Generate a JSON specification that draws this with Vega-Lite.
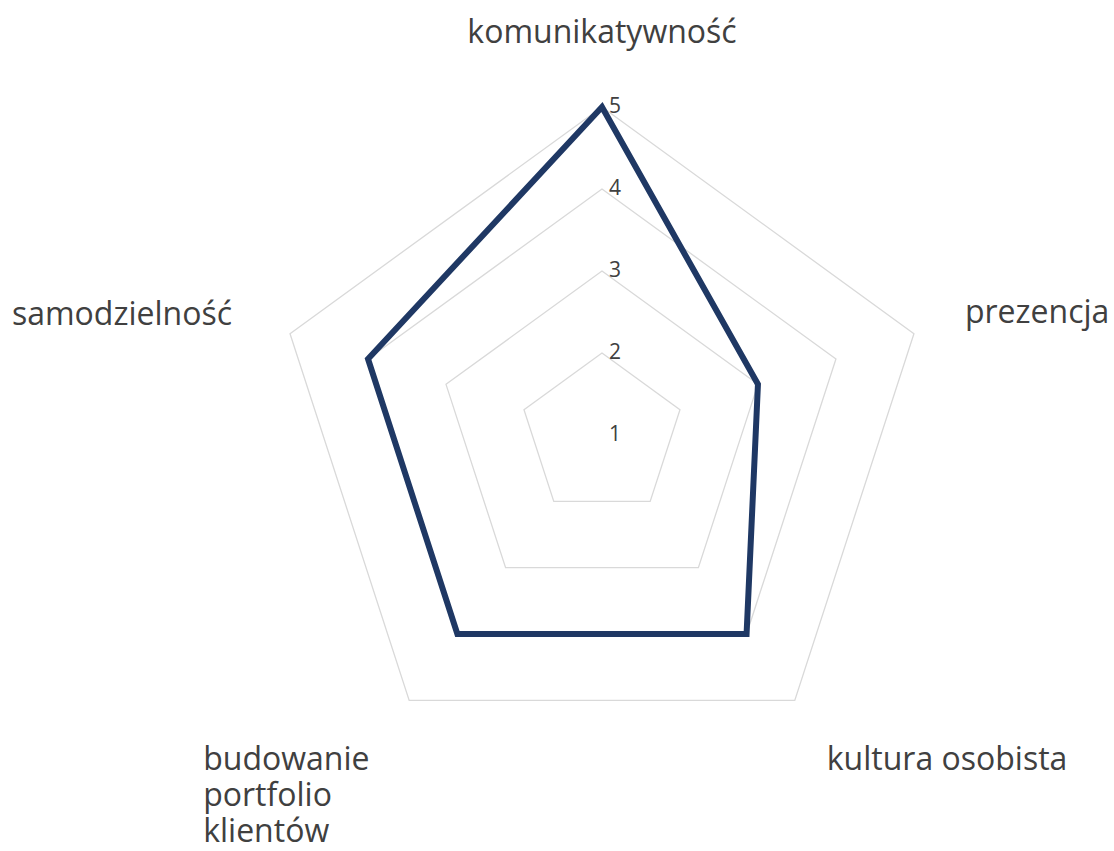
{
  "$schema": "https://vega.github.io/schema/vega-lite/v6.json",
  "width": 1114,
  "height": 851,
  "autosize": {"type": "none"},
  "padding": 0,
  "background": "white",
  "config": {"view": {"stroke": null}, "axis": {"disable": true}},
  "datasets": {
    "scores": [
      {"kategoria": "komunikatywność", "idx": 0, "ocena": 5},
      {"kategoria": "prezencja", "idx": 1, "ocena": 3},
      {"kategoria": "kultura osobista", "idx": 2, "ocena": 4},
      {"kategoria": "budowanie portfolio klientów", "idx": 3, "ocena": 4},
      {"kategoria": "samodzielność", "idx": 4, "ocena": 4}
    ],
    "grid": [
      {"poziom": 2, "idx": 0}, {"poziom": 2, "idx": 1}, {"poziom": 2, "idx": 2}, {"poziom": 2, "idx": 3}, {"poziom": 2, "idx": 4},
      {"poziom": 3, "idx": 0}, {"poziom": 3, "idx": 1}, {"poziom": 3, "idx": 2}, {"poziom": 3, "idx": 3}, {"poziom": 3, "idx": 4},
      {"poziom": 4, "idx": 0}, {"poziom": 4, "idx": 1}, {"poziom": 4, "idx": 2}, {"poziom": 4, "idx": 3}, {"poziom": 4, "idx": 4},
      {"poziom": 5, "idx": 0}, {"poziom": 5, "idx": 1}, {"poziom": 5, "idx": 2}, {"poziom": 5, "idx": 3}, {"poziom": 5, "idx": 4}
    ],
    "ticks": [{"v": 1}, {"v": 2}, {"v": 3}, {"v": 4}, {"v": 5}]
  },
  "layer": [
    {
      "data": {"name": "grid"},
      "transform": [
        {"calculate": "datum.idx * 2 * PI / 5", "as": "theta"},
        {"calculate": "(datum.poziom - 1) * sin(datum.theta)", "as": "px"},
        {"calculate": "(datum.poziom - 1) * cos(datum.theta)", "as": "py"}
      ],
      "mark": {"type": "line", "interpolate": "linear-closed", "color": "#d9d9d9", "strokeWidth": 1.3},
      "encoding": {
        "x": {"field": "px", "type": "quantitative", "scale": {"domain": [-7.341, 6.244], "nice": false, "zero": false}},
        "y": {"field": "py", "type": "quantitative", "scale": {"domain": [-5.073, 5.305], "nice": false, "zero": false}},
        "detail": {"field": "poziom", "type": "nominal"},
        "order": {"field": "idx", "type": "quantitative"}
      }
    },
    {
      "data": {"name": "scores"},
      "transform": [
        {"calculate": "datum.idx * 2 * PI / 5", "as": "theta"},
        {"calculate": "(datum.ocena - 1) * sin(datum.theta)", "as": "px"},
        {"calculate": "(datum.ocena - 1) * cos(datum.theta)", "as": "py"}
      ],
      "mark": {"type": "line", "interpolate": "linear-closed", "color": "#1f3864", "strokeWidth": 6, "strokeJoin": "miter"},
      "encoding": {
        "x": {"field": "px", "type": "quantitative", "scale": {"domain": [-7.341, 6.244], "nice": false, "zero": false}},
        "y": {"field": "py", "type": "quantitative", "scale": {"domain": [-5.073, 5.305], "nice": false, "zero": false}},
        "order": {"field": "idx", "type": "quantitative"}
      }
    },
    {
      "data": {"name": "ticks"},
      "transform": [
        {"calculate": "0", "as": "px"},
        {"calculate": "datum.v - 1", "as": "py"}
      ],
      "mark": {"type": "text", "align": "left", "baseline": "middle", "dx": 7, "font": "Open Sans", "fontSize": 21, "color": "#404040"},
      "encoding": {
        "x": {"field": "px", "type": "quantitative", "scale": {"domain": [-7.341, 6.244], "nice": false, "zero": false}},
        "y": {"field": "py", "type": "quantitative", "scale": {"domain": [-5.073, 5.305], "nice": false, "zero": false}},
        "text": {"field": "v", "type": "nominal"}
      }
    },
    {
      "data": {"name": "scores"},
      "transform": [
        {"filter": "datum.idx == 0"},
        {"calculate": "datum.idx * 2 * PI / 5", "as": "theta"},
        {"calculate": "4 * sin(datum.theta)", "as": "px"},
        {"calculate": "4 * cos(datum.theta)", "as": "py"}
      ],
      "mark": {"type": "text", "align": "center", "baseline": "alphabetic", "dx": 0, "dy": -64, "font": "Open Sans", "fontSize": 32, "color": "#404040"},
      "encoding": {
        "x": {"field": "px", "type": "quantitative", "scale": {"domain": [-7.341, 6.244], "nice": false, "zero": false}},
        "y": {"field": "py", "type": "quantitative", "scale": {"domain": [-5.073, 5.305], "nice": false, "zero": false}},
        "text": {"field": "kategoria", "type": "nominal"}
      }
    },
    {
      "data": {"name": "scores"},
      "transform": [
        {"filter": "datum.idx == 1"},
        {"calculate": "datum.idx * 2 * PI / 5", "as": "theta"},
        {"calculate": "4 * sin(datum.theta)", "as": "px"},
        {"calculate": "4 * cos(datum.theta)", "as": "py"}
      ],
      "mark": {"type": "text", "align": "left", "baseline": "alphabetic", "dx": 51, "dy": -11, "font": "Open Sans", "fontSize": 32, "color": "#404040"},
      "encoding": {
        "x": {"field": "px", "type": "quantitative", "scale": {"domain": [-7.341, 6.244], "nice": false, "zero": false}},
        "y": {"field": "py", "type": "quantitative", "scale": {"domain": [-5.073, 5.305], "nice": false, "zero": false}},
        "text": {"field": "kategoria", "type": "nominal"}
      }
    },
    {
      "data": {"name": "scores"},
      "transform": [
        {"filter": "datum.idx == 2"},
        {"calculate": "datum.idx * 2 * PI / 5", "as": "theta"},
        {"calculate": "4 * sin(datum.theta)", "as": "px"},
        {"calculate": "4 * cos(datum.theta)", "as": "py"}
      ],
      "mark": {"type": "text", "align": "left", "baseline": "alphabetic", "dx": 32, "dy": 70, "font": "Open Sans", "fontSize": 32, "color": "#404040"},
      "encoding": {
        "x": {"field": "px", "type": "quantitative", "scale": {"domain": [-7.341, 6.244], "nice": false, "zero": false}},
        "y": {"field": "py", "type": "quantitative", "scale": {"domain": [-5.073, 5.305], "nice": false, "zero": false}},
        "text": {"field": "kategoria", "type": "nominal"}
      }
    },
    {
      "data": {"name": "scores"},
      "transform": [
        {"filter": "datum.idx == 3"},
        {"calculate": "datum.idx * 2 * PI / 5", "as": "theta"},
        {"calculate": "4 * sin(datum.theta)", "as": "px"},
        {"calculate": "4 * cos(datum.theta)", "as": "py"}
      ],
      "mark": {"type": "text", "align": "left", "baseline": "alphabetic", "dx": -206, "dy": 70, "lineBreak": " ", "lineHeight": 36, "font": "Open Sans", "fontSize": 32, "color": "#404040"},
      "encoding": {
        "x": {"field": "px", "type": "quantitative", "scale": {"domain": [-7.341, 6.244], "nice": false, "zero": false}},
        "y": {"field": "py", "type": "quantitative", "scale": {"domain": [-5.073, 5.305], "nice": false, "zero": false}},
        "text": {"field": "kategoria", "type": "nominal"}
      }
    },
    {
      "data": {"name": "scores"},
      "transform": [
        {"filter": "datum.idx == 4"},
        {"calculate": "datum.idx * 2 * PI / 5", "as": "theta"},
        {"calculate": "4 * sin(datum.theta)", "as": "px"},
        {"calculate": "4 * cos(datum.theta)", "as": "py"}
      ],
      "mark": {"type": "text", "align": "right", "baseline": "alphabetic", "dx": -58, "dy": -9, "font": "Open Sans", "fontSize": 32, "color": "#404040"},
      "encoding": {
        "x": {"field": "px", "type": "quantitative", "scale": {"domain": [-7.341, 6.244], "nice": false, "zero": false}},
        "y": {"field": "py", "type": "quantitative", "scale": {"domain": [-5.073, 5.305], "nice": false, "zero": false}},
        "text": {"field": "kategoria", "type": "nominal"}
      }
    }
  ]
}
